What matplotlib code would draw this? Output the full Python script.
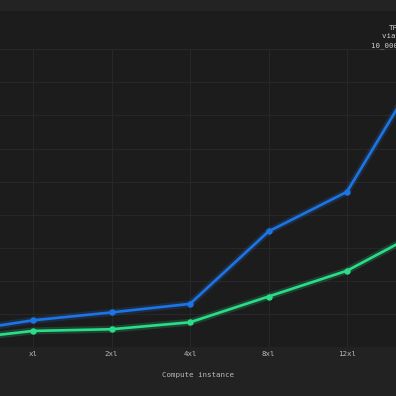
import matplotlib
matplotlib.use("Agg")
import matplotlib.pyplot as plt
import matplotlib.patheffects as pe
from matplotlib.patches import Rectangle

# data (TPS, rough)
instances = ["large", "xl", "2xl", "4xl", "8xl", "12xl", "16xl"]
tps_blue = [441, 807, 1046, 1304, 3493, 4693, 8630]
tps_green = [216, 486, 537, 747, 1526, 2306, 3568]

blue = "#1d74e4"
green = "#2bdc88"
txt = "#b9b9b9"

plt.rcParams['font.family'] = ['DejaVu Sans Mono']

fig = plt.figure(figsize=(3.96, 3.96), dpi=100)
fig.patch.set_facecolor("#1c1c1c")
# lighter bands top and bottom
fig.patches.append(Rectangle((0, 1 - 11/396), 1, 11/396, transform=fig.transFigure,
                             facecolor="#232323", edgecolor="none", zorder=-5))
fig.patches.append(Rectangle((0, 0), 1, 49/396, transform=fig.transFigure,
                             facecolor="#222222", edgecolor="none", zorder=-5))

# axes deliberately run past the figure edges (picture is a crop)
left_px, right_px = -70, 466
ax = fig.add_axes([left_px/396, 49/396, (right_px-left_px)/396, 298/396])
ax.set_facecolor("#1c1c1c")

x = list(range(len(instances)))
for ys, c in [(tps_blue, blue), (tps_green, green)]:
    glow = [pe.Stroke(linewidth=5, foreground=c, alpha=0.2), pe.Normal()]
    ax.plot(x, ys, color=c, lw=1.9, path_effects=glow, zorder=3)
    ax.plot(x, ys, color=c, lw=0, marker="o", ms=3.6, mec=c, zorder=4)

ax.set_xlim((left_px-33)/78.5 + 1, (right_px-33)/78.5 + 1)
ax.set_ylim(66, 9010)
ax.set_xticks(x)
ax.set_xticklabels(instances)
ax.set_yticks(range(0, 10000, 1000))
ax.grid(True, color="#272727", lw=0.8)
ax.set_axisbelow(True)
for s in ax.spines.values():
    s.set_visible(False)
ax.tick_params(length=0, pad=3, labelsize=5.4, colors=txt)
ax.set_xlabel("Compute instance", fontsize=5.4, color=txt, labelpad=11)

fig.text(395.75/396, 1 - 36.7/396, "TPS\nvia k6\n10_000 rows", ha="center", va="center",
         fontsize=5.4, color="#cfcfcf", linespacing=1.5)

fig.savefig("out.png", dpi=100, facecolor=fig.get_facecolor())
